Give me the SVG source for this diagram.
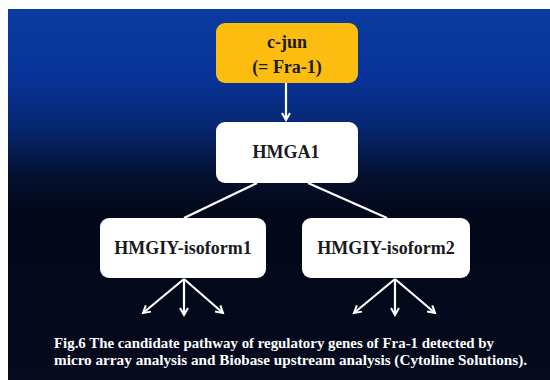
<svg xmlns="http://www.w3.org/2000/svg" width="550" height="380" viewBox="0 0 550 380">
  <style>
    .node text { font-family: "Liberation Serif", "Times New Roman", serif; font-weight: bold; fill: #1a1a22; text-anchor: middle; }
    .box { fill: #ffffff; }
    .cap { font-family: "Liberation Serif", "Times New Roman", serif; font-weight: bold; font-size: 15px; fill: #ffffff; }
    .conn { stroke: #ffffff; stroke-width: 2.2; fill: none; }
  </style>
  <defs>
    <linearGradient id="bg" x1="0" y1="0" x2="0" y2="1">
      <stop offset="0" stop-color="#0a3b9e"/>
      <stop offset="0.18" stop-color="#08349a"/>
      <stop offset="0.32" stop-color="#062670"/>
      <stop offset="0.45" stop-color="#03102e"/>
      <stop offset="0.55" stop-color="#03071a"/>
      <stop offset="1" stop-color="#050a1c"/>
    </linearGradient>
    <marker id="arr" markerWidth="10" markerHeight="10" refX="8" refY="5" orient="auto" markerUnits="userSpaceOnUse">
      <polyline points="1,1 8,5 1,9" fill="none" stroke="#ffffff" stroke-width="2"/>
    </marker>
  </defs>
  <rect x="0" y="0" width="550" height="380" fill="#ffffff"/>
  <rect x="8" y="9" width="542" height="371" fill="url(#bg)"/>

  <g id="connectors">
    <line class="conn" x1="286" y1="83" x2="286" y2="120" marker-end="url(#arr)"/>
    <line class="conn" x1="257" y1="183" x2="184" y2="218"/>
    <line class="conn" x1="308" y1="183" x2="387" y2="218"/>
    <line class="conn" x1="184" y1="279" x2="143" y2="313" marker-end="url(#arr)"/>
    <line class="conn" x1="184" y1="279" x2="184" y2="315" marker-end="url(#arr)"/>
    <line class="conn" x1="184" y1="279" x2="223" y2="313" marker-end="url(#arr)"/>
    <line class="conn" x1="395" y1="279" x2="354" y2="313" marker-end="url(#arr)"/>
    <line class="conn" x1="395" y1="279" x2="395" y2="315" marker-end="url(#arr)"/>
    <line class="conn" x1="395" y1="279" x2="435" y2="313" marker-end="url(#arr)"/>
  </g>

  <g id="node-cjun" class="node">
    <rect x="216" y="23" width="142" height="60" rx="9" fill="#fdbd10"/>
    <text x="287" y="48" font-size="18">c-jun</text>
    <text x="287" y="73" font-size="18">(= Fra-1)</text>
  </g>
  <g id="node-hmga1" class="node">
    <rect class="box" x="216" y="122" width="142" height="61" rx="9"/>
    <text x="286" y="158" font-size="18">HMGA1</text>
  </g>
  <g id="node-iso1" class="node">
    <rect class="box" x="100" y="218" width="166" height="60" rx="9"/>
    <text x="183" y="254" font-size="18">HMGIY-isoform1</text>
  </g>
  <g id="node-iso2" class="node">
    <rect class="box" x="302" y="218" width="168" height="60" rx="9"/>
    <text x="386" y="254" font-size="18">HMGIY-isoform2</text>
  </g>

  <g id="caption">
    <text class="cap" x="54" y="348" textLength="440" lengthAdjust="spacingAndGlyphs">Fig.6 The candidate pathway of regulatory genes of Fra-1 detected by</text>
    <text class="cap" x="54" y="365" textLength="473" lengthAdjust="spacingAndGlyphs">micro array analysis and Biobase upstream analysis (Cytoline Solutions).</text>
  </g>
</svg>
